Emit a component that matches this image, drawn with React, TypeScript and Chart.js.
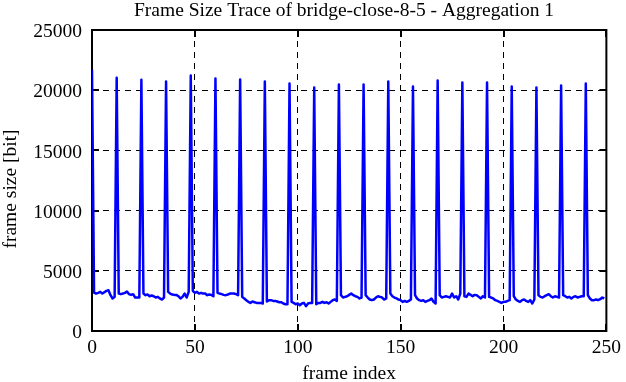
import React, { useEffect, useRef } from "react";
import { Chart, registerables } from "chart.js";

Chart.register(...registerables);

const titleText = "Frame Size Trace of bridge-close-8-5 - Aggregation 1";
const xAxisTitle = "frame index";
const yAxisTitle = "frame size [bit]";
const xTickValues = [0, 50, 100, 150, 200, 250];
const yTickValues = [0, 5000, 10000, 15000, 20000, 25000];

// frame sizes [bit], frames 0..249
const frameSizes = [
  21700, 3195, 3110, 3170, 3250, 3110, 3225, 3335, 3390, 2975, 2700, 2835,
  21030, 3110, 3060, 3110, 3170, 3280, 3060, 3000, 3060, 2780, 2780, 2780,
  20860, 3110, 2975, 3030, 2890, 2945, 2890, 2780, 2835, 2700, 2615, 2780,
  20720, 3250, 3110, 3030, 3000, 3000, 2890, 2700, 2835, 3110, 2780, 3250,
  21220, 3335, 3170, 3250, 3110, 3170, 3110, 3110, 2975, 3030, 3000, 2890,
  20970, 3170, 3110, 3060, 3000, 2975, 3030, 3110, 3110, 3110, 3060, 2975,
  20890, 2835, 2700, 2560, 2420, 2335, 2445, 2390, 2335, 2335, 2335, 2280,
  20720, 2445, 2560, 2560, 2500, 2500, 2445, 2390, 2390, 2280, 2225, 2225,
  20550, 2420, 2335, 2225, 2280, 2140, 2280, 2335, 2060, 2280, 2335, 2335,
  20220, 2225, 2335, 2335, 2420, 2335, 2390, 2280, 2420, 2560, 2615, 2500,
  20470, 2975, 2780, 2835, 2890, 3000, 3110, 2975, 2890, 2835, 2700, 2780,
  20470, 2975, 2780, 2615, 2560, 2615, 2780, 2890, 2835, 2780, 2615, 2700,
  20720, 3110, 2890, 2780, 2700, 2615, 2560, 2420, 2500, 2420, 2500, 2615,
  20300, 2975, 2700, 2560, 2500, 2560, 2420, 2500, 2560, 2700, 2420, 2280,
  20800, 2975, 2780, 2835, 2890, 2835, 2780, 3110, 2780, 2890, 2615, 3110,
  20640, 2890, 2835, 3110, 3000, 2890, 3000, 2975, 2835, 2700, 2890, 2780,
  20640, 2835, 2780, 2700, 2560, 2500, 2420, 2335, 2420, 2420, 2500, 2560,
  20300, 2890, 2615, 2500, 2420, 2560, 2615, 2500, 2420, 2560, 2280, 2615,
  20220, 2975, 2835, 2780, 2890, 2975, 3060, 2890, 2780, 2890, 2835, 2780,
  20390, 2975, 2890, 2780, 2835, 2700, 2835, 2890, 2780, 2835, 2890, 2890,
  20550, 2975, 2700, 2560, 2560, 2615, 2560, 2640, 2780, 2700,
];

const FONT_FAMILY = "'Liberation Serif', 'Times New Roman', serif";
const FONT_SIZE = 19.5;

export default function App() {
  const canvasRef = useRef<HTMLCanvasElement>(null);

  useEffect(() => {
    document.body.style.margin = "0";
    const canvas = canvasRef.current;
    if (!canvas) return;

    const framePlugin = {
      id: "gnuplotFrame",
      beforeDatasetsDraw(chart: any) {
        const { ctx, chartArea: a, scales } = chart;
        ctx.save();
        ctx.strokeStyle = "#000";
        ctx.lineWidth = 2;
        ctx.setLineDash([]);
        ctx.strokeRect(a.left, a.top, a.right - a.left, a.bottom - a.top);
        const tl = 7;
        ctx.beginPath();
        for (const v of yTickValues) {
          const y = Math.round(scales.y.getPixelForValue(v));
          ctx.moveTo(a.left, y);
          ctx.lineTo(a.left + tl, y);
          ctx.moveTo(a.right, y);
          ctx.lineTo(a.right - tl, y);
        }
        for (const v of xTickValues) {
          const x = Math.round(scales.x.getPixelForValue(v));
          ctx.moveTo(x, a.bottom);
          ctx.lineTo(x, a.bottom - tl);
          ctx.moveTo(x, a.top);
          ctx.lineTo(x, a.top + tl);
        }
        ctx.stroke();
        ctx.restore();
      },
      afterDraw(chart: any) {
        const { ctx, chartArea: a } = chart;
        ctx.save();
        ctx.fillStyle = "#000";
        ctx.font = `${FONT_SIZE}px ${FONT_FAMILY}`;
        ctx.textAlign = "center";
        ctx.textBaseline = "alphabetic";
        ctx.fillText(titleText, 344, 16);
        ctx.fillText(xAxisTitle, (a.left + a.right) / 2, 379);
        ctx.translate(16, 189);
        ctx.rotate(-Math.PI / 2);
        ctx.fillText(yAxisTitle, 0, 0);
        ctx.restore();
      },
    };

    const gridColor = (ctx: any) => {
      const v = ctx.tick ? ctx.tick.value : null;
      if (v === 0 || v === 250 || v === 25000) return "rgba(0,0,0,0)";
      return "#000";
    };

    const chart = new Chart(canvas, {
      type: "line",
      data: {
        datasets: [
          {
            data: frameSizes.map((y, i) => ({ x: i, y })),
            borderColor: "#0000ff",
            borderWidth: 2.5,
            borderJoinStyle: "round",
            pointRadius: 0,
            tension: 0,
            fill: false,
          },
        ],
      },
      options: {
        animation: false,
        responsive: false,
        maintainAspectRatio: false,
        layout: { padding: { top: 30, right: 15, left: 0, bottom: 0 } },
        plugins: {
          legend: { display: false },
          tooltip: { enabled: false },
          title: { display: false },
        },
        scales: {
          x: {
            type: "linear",
            min: 0,
            max: 250,
            afterBuildTicks: (s: any) => {
              s.ticks = xTickValues.map((v) => ({ value: v }));
            },
            afterFit: (s: any) => {
              s.height = 51;
            },
            grid: {
              color: gridColor,
              lineWidth: 1,
              drawTicks: false,
            },
            border: { display: false, dash: [6, 5] },
            ticks: {
              color: "#000",
              font: { family: FONT_FAMILY, size: FONT_SIZE },
              padding: 5,
              maxRotation: 0,
              autoSkip: false,
              callback: (v: any) => String(v),
            },
          },
          y: {
            type: "linear",
            min: 0,
            max: 25000,
            afterBuildTicks: (s: any) => {
              s.ticks = yTickValues.map((v) => ({ value: v }));
            },
            afterFit: (s: any) => {
              s.width = 92;
            },
            grid: {
              color: gridColor,
              lineWidth: 1,
              drawTicks: false,
            },
            border: { display: false, dash: [6, 5] },
            ticks: {
              color: "#000",
              font: { family: FONT_FAMILY, size: FONT_SIZE },
              padding: 10,
              labelOffset: 2,
              autoSkip: false,
              callback: (v: any) => String(v),
            },
          },
        },
      },
      plugins: [framePlugin],
    } as any);

    return () => chart.destroy();
  }, []);

  return (
    <div style={{ width: 626, height: 382 }}>
      <canvas ref={canvasRef} width={626} height={382} style={{ display: "block" }} />
    </div>
  );
}
